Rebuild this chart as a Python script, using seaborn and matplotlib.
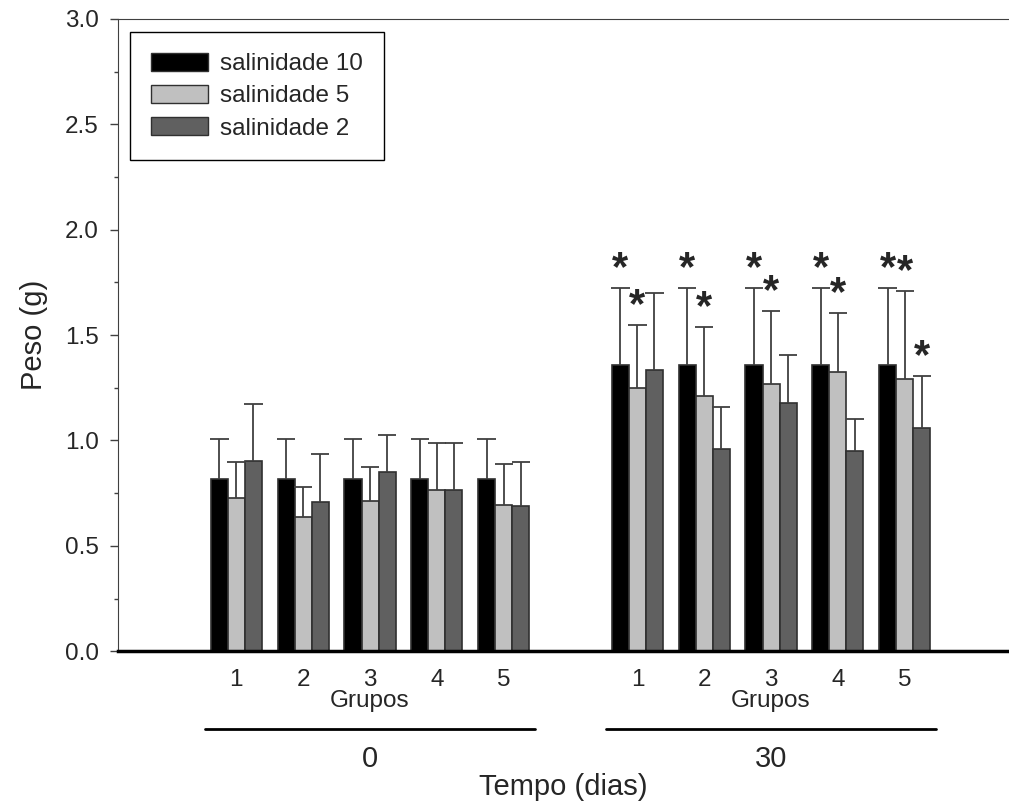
import numpy as np
import pandas as pd
import matplotlib
matplotlib.use('Agg')
import matplotlib.pyplot as plt
from matplotlib.patches import Patch
from matplotlib.ticker import MultipleLocator
import seaborn as sns

# Data
grupos = ['1', '2', '3', '4', '5']
dias = ['0', '30']
series = ['salinidade 10', 'salinidade 5', 'salinidade 2']
cores = ['#000000', '#c0c0c0', '#606060']

# mean weight (g), day 0 then day 30
peso_sal10 = [0.816, 0.816, 0.816, 0.816, 0.816, 1.356, 1.356, 1.356, 1.356, 1.356]
peso_sal5 = [0.725, 0.637, 0.715, 0.764, 0.694, 1.250, 1.213, 1.270, 1.326, 1.291]
peso_sal2 = [0.903, 0.707, 0.850, 0.763, 0.690, 1.335, 0.959, 1.176, 0.949, 1.058]

# upper error (g)
erro_sal10 = [0.192, 0.192, 0.192, 0.192, 0.192, 0.368, 0.368, 0.368, 0.368, 0.368]
erro_sal5 = [0.173, 0.143, 0.158, 0.222, 0.195, 0.296, 0.326, 0.344, 0.278, 0.418]
erro_sal2 = [0.272, 0.229, 0.178, 0.223, 0.210, 0.366, 0.202, 0.229, 0.151, 0.246]

# significance marks
marca_sal10 = ['', '', '', '', '', '*', '*', '*', '*', '*']
marca_sal5 = ['', '', '', '', '', '*', '*', '*', '*', '*']
marca_sal2 = ['', '', '', '', '', '', '', '', '', '*']

# x positions: groups of day 0, a gap, groups of day 30
posicoes = [0, 1, 2, 3, 4, 6, 7, 8, 9, 10]

pesos = [peso_sal10, peso_sal5, peso_sal2]
erros = [erro_sal10, erro_sal5, erro_sal2]
marcas = [marca_sal10, marca_sal5, marca_sal2]

df = pd.DataFrame({
    'pos': posicoes * 3,
    'peso': peso_sal10 + peso_sal5 + peso_sal2,
    'sal': [s for s in series for _ in posicoes],
})

sns.set_style('ticks')
plt.rcParams['font.family'] = ['Liberation Sans', 'DejaVu Sans']

fig = plt.figure(figsize=(10.09, 8.07), dpi=100)
ax = fig.add_axes([0.117, 0.193, 0.883, 0.7835])

sns.barplot(data=df, x='pos', y='peso', hue='sal', hue_order=series,
            palette=cores, native_scale=True, width=0.765, errorbar=None,
            edgecolor='#303030', linewidth=1.2, legend=False, ax=ax)

# error bars (upper only) and asterisks
for cont, err, mk in zip(ax.containers, erros, marcas):
    for bar, e, m in zip(cont, err, mk):
        xc = bar.get_x() + bar.get_width() / 2
        w = bar.get_width()
        top = bar.get_height() + e
        ax.vlines(xc, bar.get_height(), top, color='#404040', lw=1.3, zorder=1)
        ax.hlines(top, xc - w / 2 - 0.01, xc + w / 2 + 0.01, color='#404040', lw=1.3, zorder=1)
        if m:
            ax.text(xc, top - 0.005, m, ha='center', va='bottom', fontsize=30,
                    fontweight='bold')

ax.set_ylim(0, 3)
ax.set_xlim(-1.77, 11.56)
ax.yaxis.set_major_locator(MultipleLocator(0.5))
ax.yaxis.set_minor_locator(MultipleLocator(0.25))
ax.yaxis.set_major_formatter(matplotlib.ticker.FormatStrFormatter('%.1f'))
ax.tick_params(axis='y', which='major', length=6, width=1, color='#404040',
               labelsize=17.5, pad=8)
ax.tick_params(axis='y', which='minor', length=3, width=1, color='#404040')
ax.set_xticks(posicoes)
ax.set_xticklabels(grupos * 2)
ax.tick_params(axis='x', length=0, labelsize=17.5, pad=13)

ax.spines['right'].set_visible(False)
ax.spines['top'].set_color('#404040')
ax.spines['left'].set_color('#404040')
ax.spines['bottom'].set_color('black')
ax.spines['bottom'].set_linewidth(2.5)

ax.set_ylabel('Peso (g)', fontsize=21, labelpad=12)
ax.set_xlabel('')

# group and time annotations under the axis
trans = ax.get_xaxis_transform()
for i, d in enumerate(dias):
    pos_d = posicoes[i * 5:(i + 1) * 5]
    centro = np.mean(pos_d)
    ax.text(centro, -0.078, 'Grupos', transform=trans, ha='center', va='center',
            fontsize=17.5)
    ax.plot([centro - 2.47, centro + 2.47], [-0.1234, -0.1234], transform=trans,
            color='black', lw=2, clip_on=False)
    ax.text(centro, -0.171, d, transform=trans, ha='center', va='center',
            fontsize=21)
ax.text(0.5, -0.215, 'Tempo (dias)', transform=ax.transAxes, ha='center',
        va='center', fontsize=21)

handles = [Patch(facecolor=c, edgecolor='#303030', lw=1.0, label=s)
           for c, s in zip(cores, series)]
leg = ax.legend(handles=handles, loc='upper left', bbox_to_anchor=(0.0135, 0.979),
                borderaxespad=0, fontsize=17.5, handlelength=2.34, handleheight=0.74,
                labelspacing=0.41, handletextpad=0.53, borderpad=0.85,
                fancybox=False, edgecolor='black', framealpha=1)
leg.get_frame().set_linewidth(1.0)

fig.savefig('out.png', dpi=100)
